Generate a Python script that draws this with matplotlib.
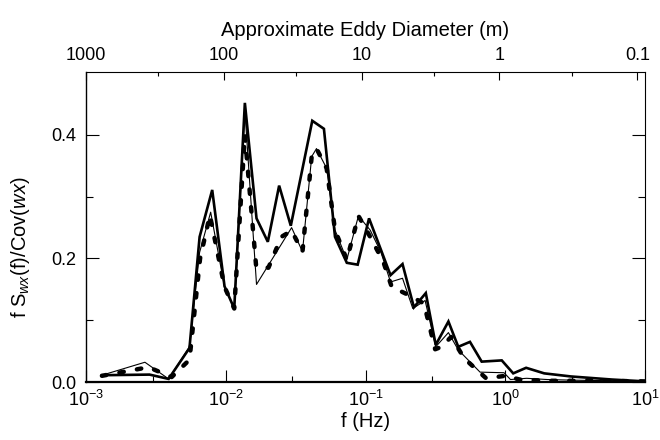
import matplotlib
matplotlib.use("Agg")
import matplotlib.pyplot as plt
from matplotlib.ticker import FixedLocator, NullFormatter, LogLocator
import numpy as np

plt.rcParams['font.family'] = ['Liberation Sans', 'DejaVu Sans']
plt.rcParams['mathtext.fontset'] = 'custom'
plt.rcParams['mathtext.rm'] = 'Liberation Sans'
plt.rcParams['mathtext.it'] = 'Liberation Sans:italic'

# thick solid curve
f_thick = [1.3e-3, 2.85e-3, 3.9e-3, 5.5e-3, 6.5e-3, 8.0e-3, 9.8e-3, 0.0115, 0.0137,
           0.0166, 0.0200, 0.0241, 0.0292, 0.0416, 0.0504, 0.0605, 0.0735, 0.0879,
           0.106, 0.129, 0.151, 0.184, 0.222, 0.270, 0.318, 0.392, 0.461, 0.559,
           0.678, 0.944, 1.14, 1.41, 1.90, 2.95, 5.8, 10.0]
v_thick = [0.011, 0.012, 0.005, 0.055, 0.235, 0.311, 0.155, 0.119, 0.452,
           0.265, 0.227, 0.318, 0.253, 0.423, 0.410, 0.235, 0.193, 0.190,
           0.265, 0.214, 0.173, 0.191, 0.121, 0.144, 0.060, 0.098, 0.057, 0.065,
           0.033, 0.035, 0.014, 0.023, 0.014, 0.009, 0.004, 0.001]

# thin solid curve
f_thin = [1.3e-3, 2.64e-3, 3.9e-3, 5.5e-3, 6.5e-3, 7.8e-3, 9.8e-3, 0.0115, 0.0137,
          0.0166, 0.0296, 0.0354, 0.0412, 0.0446, 0.0527, 0.0605, 0.0735, 0.089,
          0.108, 0.129, 0.151, 0.184, 0.218, 0.267, 0.318, 0.392, 0.461, 0.66,
          0.98, 1.09, 1.42, 2.0, 3.0, 6.0, 10.0]
v_thin = [0.011, 0.032, 0.005, 0.057, 0.210, 0.275, 0.154, 0.119, 0.440,
          0.158, 0.250, 0.211, 0.365, 0.378, 0.346, 0.246, 0.198, 0.269,
          0.246, 0.210, 0.162, 0.168, 0.119, 0.132, 0.057, 0.080, 0.052, 0.016,
          0.015, 0.004, 0.006, 0.004, 0.003, 0.002, 0.001]

# heavy dashed curve
f_dash = [1.3e-3, 2.8e-3, 4.1e-3, 5.5e-3, 6.55e-3, 7.7e-3, 9.8e-3, 0.0115, 0.0137,
          0.0165, 0.0202, 0.0250, 0.0296, 0.0354, 0.0412, 0.0446, 0.0527, 0.0605,
          0.0735, 0.089, 0.108, 0.134, 0.154, 0.203, 0.262, 0.315, 0.35, 0.41,
          0.51, 0.73, 1.0, 1.27, 2.0, 5.0, 10.0]
v_dash = [0.010, 0.024, 0.008, 0.036, 0.200, 0.270, 0.154, 0.119, 0.400,
          0.187, 0.185, 0.235, 0.245, 0.211, 0.365, 0.378, 0.346, 0.246,
          0.198, 0.269, 0.235, 0.195, 0.154, 0.141, 0.127, 0.053, 0.057, 0.073,
          0.038, 0.006, 0.010, 0.004, 0.002, 0.002, 0.001]

# top axis: approximate eddy diameter
diam_ticks = [1000, 100, 10, 1, 0.1]
diam_labels = ['1000', '100', '10', '1', '0.1']
diam_minor = [300, 30, 3, 0.3]

s = 1.014  # top scale is a touch tighter than the bottom one


def diam_to_f(d):
    return 10 ** (-3 + (3 - np.log10(d)) / s)


fig = plt.figure(figsize=(6.6, 4.4), dpi=100)
ax = fig.add_axes([0.1303, 0.1318, 0.8470, 0.7046])

ax.plot(f_thin, v_thin, color='black', lw=0.8)
ax.plot(f_dash, v_dash, color='black', lw=3.2, dashes=(1.0, 3.0),
        dash_capstyle='round')
ax.plot(f_thick, v_thick, color='black', lw=1.9, solid_joinstyle='miter')

ax.set_xscale('log')
ax.set_xlim(1e-3, 10)
ax.set_ylim(0, 0.502)

ax.xaxis.set_major_locator(LogLocator(base=10, numticks=10))
ax.xaxis.set_minor_locator(LogLocator(base=10, subs=[3.0], numticks=10))
ax.xaxis.set_minor_formatter(NullFormatter())
ax.set_yticks([0.0, 0.2, 0.4])
ax.set_yticklabels(['0.0', '0.2', '0.4'])
ax.yaxis.set_minor_locator(FixedLocator([0.1, 0.3]))

ax.tick_params(axis='x', which='major', direction='in', length=9, width=0.8,
               labelsize=13, pad=6, top=False)
ax.tick_params(axis='x', which='minor', direction='in', length=4, width=0.8, top=False)
ax.tick_params(axis='y', which='major', direction='in', length=9.4, width=0.8,
               labelsize=13, pad=7, right=True)
ax.tick_params(axis='y', which='minor', direction='in', length=4.7, width=0.8, right=True)

for side, lw in [('bottom', 1.6), ('left', 1.0), ('top', 0.8), ('right', 0.8)]:
    ax.spines[side].set_linewidth(lw)

ax.set_xlabel('f (Hz)', fontsize=14.5, labelpad=1)
ax.set_ylabel(r'f S$_{\mathit{wx}}$(f)/Cov($\mathit{wx}$)', fontsize=14.5)
ax.yaxis.set_label_coords(-0.097, 0.435)

ax2 = ax.twiny()
ax2.set_xscale('log')
ax2.set_xlim(ax.get_xlim())
ax2.xaxis.set_major_locator(FixedLocator([diam_to_f(d) for d in diam_ticks]))
ax2.xaxis.set_minor_locator(FixedLocator([diam_to_f(d) for d in diam_minor]))
ax2.set_xticklabels(diam_labels)
ax2.xaxis.set_minor_formatter(NullFormatter())
ax2.tick_params(axis='x', which='major', direction='in', length=5.5, width=0.8,
                labelsize=13, pad=6)
ax2.tick_params(axis='x', which='minor', direction='in', length=3, width=0.8)
ax2.set_xlabel('Approximate Eddy Diameter (m)', fontsize=14.5, labelpad=8)
for sp in ax2.spines.values():
    sp.set_visible(False)

fig.savefig('out.png', dpi=100)
